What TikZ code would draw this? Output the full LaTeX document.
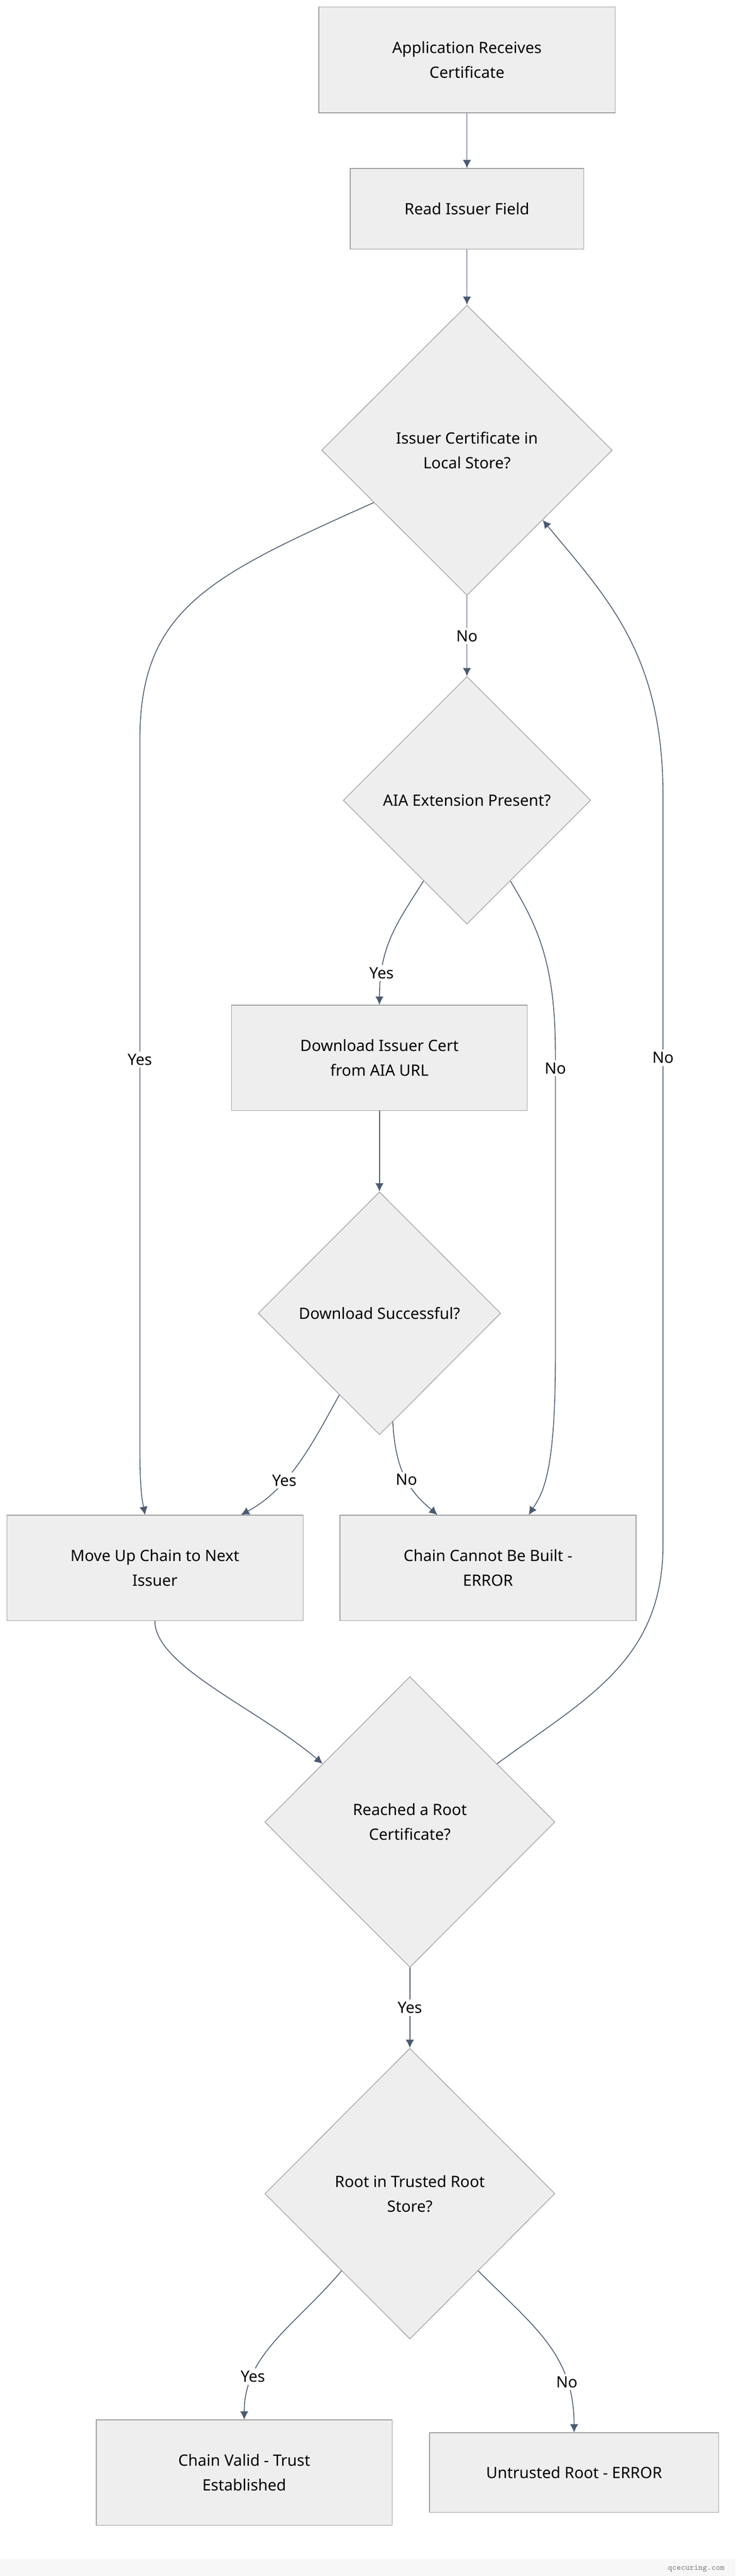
\documentclass[tikz,border=0pt]{standalone}
\usepackage{fontspec}
\setmainfont{Noto Sans}
\usepackage{tikz}
\usetikzlibrary{shapes, arrows.meta, calc, backgrounds}

\definecolor{boxfill}{HTML}{EEEEEE}
\definecolor{boxline}{HTML}{9E9E9E}
\definecolor{edgeline}{HTML}{4A5A70}

\begin{document}
\begin{tikzpicture}[
    font=\fontsize{9.5}{15}\selectfont,
    box/.style={draw=boxline, fill=boxfill, rectangle, align=center, inner sep=0pt},
    decision/.style={draw=boxline, fill=boxfill, diamond, align=center, inner sep=0pt},
    flow/.style={draw=edgeline, line width=0.5pt, -{Latex[length=5pt, width=5pt]}},
    lbl/.style={fill=white, inner sep=1.5pt}
  ]
      \useasboundingbox (0,0) rectangle (15.72,-55.04);
      \fill[gray!6] (0,-54.68) rectangle (15.72,-55.04);
      \node[text=gray, font=\ttfamily\fontsize{5}{6}\selectfont] (site) at (14.88,-54.88) {qcecuring.com};

      \node[box, minimum width=6.33cm, minimum height=2.26cm] (recv)  at (9.98,-1.28)  {Application Receives\\Certificate};
      \node[box, minimum width=4.99cm, minimum height=1.72cm] (read)  at (9.98,-4.46)  {Read Issuer Field};
      \node[decision, minimum width=6.21cm, minimum height=6.20cm] (local) at (9.98,-9.62)  {Issuer Certificate in\\Local Store?};
      \node[decision, minimum width=5.29cm, minimum height=5.29cm] (aia)   at (9.98,-17.10) {AIA Extension Present?};
      \node[box, minimum width=6.32cm, minimum height=2.25cm] (dl)    at (8.11,-22.60) {Download Issuer Cert\\from AIA URL};
      \node[decision, minimum width=5.18cm, minimum height=5.19cm] (dlok)  at (8.11,-28.06) {Download Successful?};
      \node[box, minimum width=6.33cm, minimum height=2.25cm] (next)  at (3.31,-33.50) {Move Up Chain to Next\\Issuer};
      \node[box, minimum width=6.33cm, minimum height=2.25cm] (fail)  at (10.43,-33.50) {Chain Cannot Be Built -\\ERROR};
      \node[decision, minimum width=6.20cm, minimum height=6.21cm] (root)  at (8.76,-38.93) {Reached a Root\\Certificate?};
      \node[decision, minimum width=6.20cm, minimum height=6.21cm] (trust) at (8.76,-46.87) {Root in Trusted Root\\Store?};
      \node[box, minimum width=6.32cm, minimum height=2.25cm] (valid) at (5.22,-52.83) {Chain Valid - Trust\\Established};
      \node[box, minimum width=6.18cm, minimum height=1.70cm] (untr)  at (12.27,-52.83) {Untrusted Root - ERROR};

      \draw[flow] (recv) -- (read);
      \draw[flow] (read) -- (local);
      % yes branch down the left side
      \draw[flow] ($(local.west)!0.36!(local.south)$) .. controls (4.5,-12.3) and (2.99,-13.0) .. (2.99,-15.8)
        -- node[lbl, pos=0.45] {Yes} (2.99,-31.0) .. controls (2.99,-31.9) and (3.05,-32.1) .. ($(next.north)+(-0.21,0)$);
      \draw[flow] (local) -- node[lbl] {No} (aia);
      \draw[flow] ($(aia.west)!0.65!(aia.south)$) .. controls (8.5,-19.7) and (8.11,-20.2) .. node[lbl, pos=0.8] {Yes} (dl);
      \draw[flow] ($(aia.east)!0.65!(aia.south)$) .. controls (11.5,-19.8) and (11.87,-20.6) .. (11.87,-22.5)
        -- node[lbl, pos=0.05] {No} (11.87,-29.0) .. controls (11.87,-31.5) and (11.6,-31.9) .. ($(fail.north)+(0.87,0)$);
      \draw[flow] (dl) -- (dlok);
      \draw[flow] ($(dlok.west)!0.67!(dlok.south)$) .. controls (6.7,-30.8) and (6.2,-31.8) .. node[lbl, pos=0.65] {Yes} ($(next.north)+(1.84,0)$);
      \draw[flow] ($(dlok.east)!0.89!(dlok.south)$) .. controls (8.45,-31.5) and (8.8,-31.9) .. node[lbl, pos=0.5] {No} ($(fail.north)+(-1.08,0)$);
      \draw[flow] (next.south) .. controls (3.31,-35.6) and (5.5,-36.5) .. ($(root.west)!0.4!(root.north)$);
      % loop back to the local store check
      \draw[flow] ($(root.east)!0.4!(root.north)$) .. controls (12.5,-36.3) and (14.17,-35.5) .. (14.17,-33.0)
        -- node[lbl, pos=0.65] {No} (14.17,-17.0) .. controls (14.17,-14.0) and (13.0,-12.8) .. ($(local.east)!0.48!(local.south)$);
      \draw[flow] (root) -- node[lbl] {Yes} (trust);
      \draw[flow] ($(trust.west)!0.53!(trust.south)$) .. controls (6.3,-49.7) and (5.22,-50.3) .. node[lbl, pos=0.75] {Yes} (valid);
      \draw[flow] ($(trust.east)!0.53!(trust.south)$) .. controls (11.4,-49.7) and (12.27,-50.3) .. node[lbl, pos=0.75] {No} (untr);
    \end{tikzpicture}
\end{document}
